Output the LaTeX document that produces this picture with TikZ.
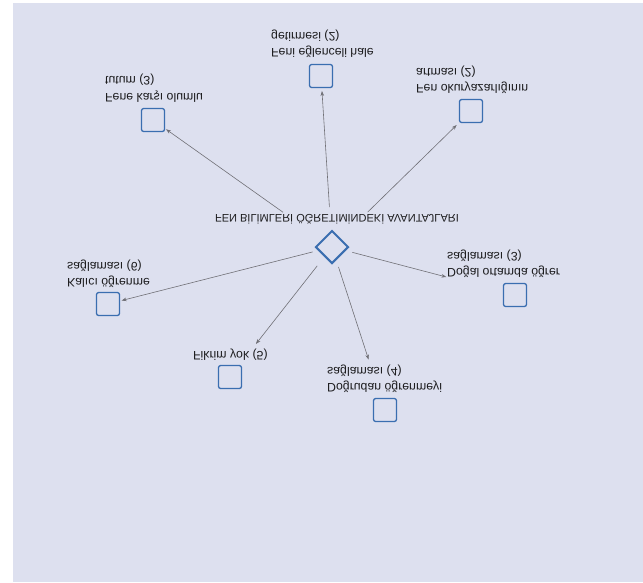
\documentclass[tikz,border=0pt]{standalone}
\usepackage{fontspec}
\setmainfont{Liberation Sans}
\usetikzlibrary{shapes.geometric,arrows.meta}

\definecolor{paper}{RGB}{221,224,239}
\definecolor{boxblue}{RGB}{58,110,176}
\definecolor{wire}{RGB}{112,112,118}
\definecolor{ink}{RGB}{28,28,30}

\tikzset{
  item/.style={draw=boxblue, line width=1.3pt, rounded corners=2.2pt,
               fill=paper, minimum size=23pt, inner sep=0pt},
  hubshape/.style={diamond, draw=boxblue, line width=2pt, fill=paper,
               minimum width=33pt, minimum height=33pt, inner sep=0pt},
  itemtext/.style={anchor=west, inner sep=0pt, align=left, text=ink,
               font=\fontsize{12.3}{16.5}\selectfont},
  titletext/.style={inner sep=0pt, text=ink, font=\fontsize{11}{13}\selectfont},
  conn/.style={draw=wire, line width=0.6pt,
               -{Stealth[length=5pt,width=3.6pt]}},
}

\begin{document}
\begin{tikzpicture}[x=1pt, y=1pt, yscale=-1, transform shape]
  \useasboundingbox (0,0) rectangle (643,582);
  \fill[paper] (13,3) rectangle (643,582);

  % central item
  \node[hubshape] (hub) at (332,247) {};
  \node[titletext] (title) at (337,219) {FEN BİLİMLERİ ÖĞRETİMİNDEKİ AVANTAJLARI};

  % answer items
  \node[item] (sqA) at (153,120) {};
  \node[itemtext] (labA) at (105,88) {Fene karşı olumlu\\tutum (3)};

  \node[item] (sqB) at (321,76) {};
  \node[itemtext] (labB) at (271,44) {Feni eğlenceli hale\\getirmesi (2)};

  \node[item] (sqC) at (471,111) {};
  \node[itemtext] (labC) at (416,80) {Fen okuryazarlığının\\artması (2)};

  \node[item] (sqD) at (108,304) {};
  \node[itemtext] (labD) at (67,274) {Kalıcı öğrenme\\sağlaması (6)};

  \node[item] (sqE) at (515,295) {};
  \node[itemtext] (labE) at (447,264) {Doğal ortamda öğrer\\sağlaması (3)};

  \node[item] (sqF) at (230,377) {};
  \node[itemtext] (labF) at (193,355) {Fikrim yok (5)};

  \node[item] (sqG) at (385,410) {};
  \node[itemtext] (labG) at (327,379) {Doğrudan öğrenmeyi\\sağlaması (4)};

  % connectors from the centre to each item
  \draw[conn, shorten <=60pt, shorten >=16pt] (hub.center) -- (sqA.center);
  \draw[conn, shorten <=40pt, shorten >=15pt] (hub.center) -- (sqB.center);
  \draw[conn, shorten <=50pt, shorten >=20pt] (hub.center) -- (sqC.center);
  \draw[conn, shorten <=20pt, shorten >=14pt] (hub.center) -- (sqD.center);
  \draw[conn, shorten <=21pt, shorten >=71pt] (hub.center) -- (sqE.center);
  \draw[conn, shorten <=24pt, shorten >=42pt] (hub.center) -- (sqF.center);
  \draw[conn, shorten <=21pt, shorten >=53pt] (hub.center) -- (sqG.center);
\end{tikzpicture}
\end{document}
